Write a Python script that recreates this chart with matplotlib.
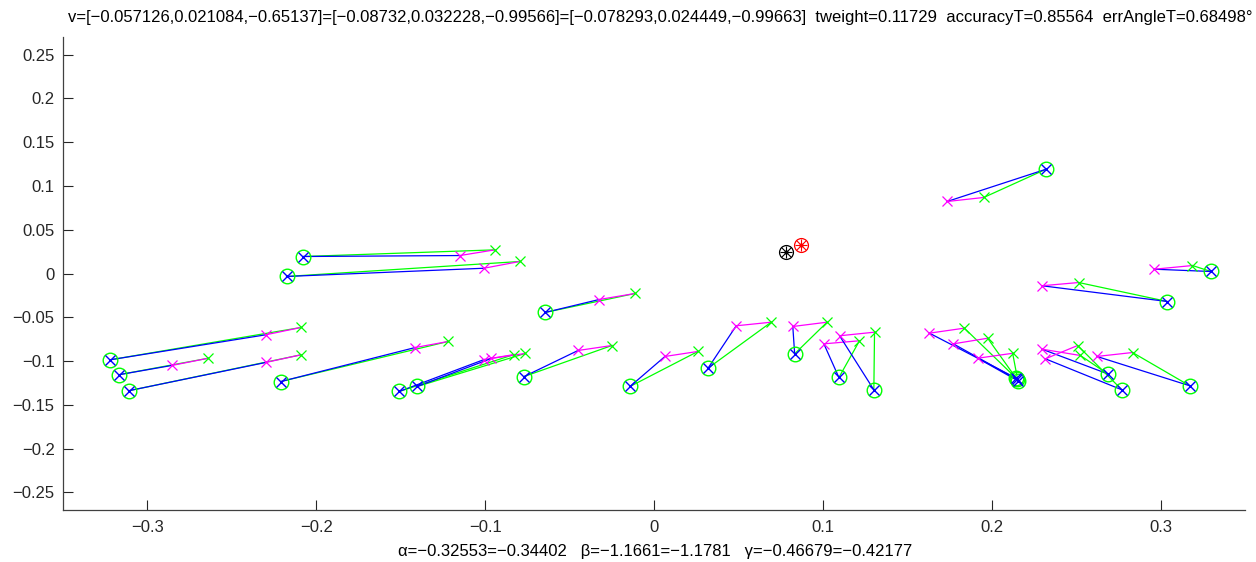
import numpy as np
import matplotlib
matplotlib.use("Agg")
import matplotlib.pyplot as plt

plt.rcParams['font.family'] = ['Liberation Sans', 'DejaVu Sans']

# base points (green circle + blue x)
base_x = [-0.322, -0.317, -0.3112, -0.2209, -0.2077, -0.2176, -0.1509, -0.1402,
          -0.0769, -0.0645, -0.0142, 0.032, 0.0833, 0.1095, 0.1302, 0.2321,
          0.3298, 0.3041, 0.2686, 0.2771, 0.3173, 0.2145, 0.215, 0.2155]
base_y = [-0.0985, -0.1156, -0.1339, -0.1233, 0.0194, -0.0034, -0.1347, -0.129,
          -0.1176, -0.0445, -0.129, -0.1081, -0.0917, -0.1187, -0.1328, 0.119,
          0.0023, -0.032, -0.1145, -0.1328, -0.1282, -0.1195, -0.121, -0.1225]
# magenta estimates
mag_x = [-0.230, -0.2856, -0.230, -0.1414, -0.115, -0.1008, -0.1006, -0.0964,
         -0.045, -0.0325, 0.0065, 0.0487, 0.0822, 0.1006, 0.1099, 0.1736,
         0.2963, 0.2298, 0.2298, 0.2318, 0.2623, 0.1631, 0.1773, 0.1917]
mag_y = [-0.070, -0.105, -0.1016, -0.0845, 0.0205, 0.006, -0.0982, -0.097,
         -0.0879, -0.0297, -0.0947, -0.0597, -0.0605, -0.0803, -0.0711, 0.0822,
         0.0049, -0.014, -0.0864, -0.0974, -0.0947, -0.0681, -0.0803, -0.0967]
# green estimates
grn_x = [-0.209, -0.2639, -0.209, -0.1219, -0.0943, -0.0795, -0.0828, -0.0763,
         -0.0249, -0.0112, 0.026, 0.0694, 0.1025, 0.1217, 0.1306, 0.1953,
         0.3189, 0.2515, 0.2525, 0.2509, 0.2834, 0.1838, 0.1976, 0.2124]
grn_y = [-0.0616, -0.0967, -0.0928, -0.0776, 0.027, 0.0137, -0.0925, -0.0913,
         -0.0822, -0.0228, -0.089, -0.0556, -0.0556, -0.0768, -0.067, 0.0868,
         0.0091, -0.0103, -0.0936, -0.0822, -0.0902, -0.0624, -0.0739, -0.0911]

v_true = (0.078293, 0.024449)
v_est = (0.08732, 0.032228)

title_txt = ("v=[\u22120.057126,0.021084,\u22120.65137]=[\u22120.08732,0.032228,\u22120.99566]"
             "=[\u22120.078293,0.024449,\u22120.99663]  tweight=0.11729  accuracyT=0.85564  "
             "errAngleT=0.68498\u00b0")
xlabel_txt = ("\u03b1=\u22120.32553=\u22120.34402   \u03b2=\u22121.1661=\u22121.1781   "
              "\u03b3=\u22120.46679=\u22120.42177")

GREEN = "#00ff00"
BLUE = "#0000ff"
MAG = "#ff00ff"

fig = plt.figure(figsize=(12.56, 5.62), dpi=100)
ax = fig.add_axes([63/1256, 1-510/562, (1245-63)/1256, (510-37)/562])

for i in range(len(base_x)):
    ax.plot([base_x[i], grn_x[i]], [base_y[i], grn_y[i]], color=GREEN, lw=0.9)
    ax.plot([base_x[i], mag_x[i]], [base_y[i], mag_y[i]], color=BLUE, lw=0.9)
    ax.plot([mag_x[i], grn_x[i]], [mag_y[i], grn_y[i]], color=MAG, lw=0.9)

ax.plot(base_x, base_y, 'o', ls='none', mfc='none', mec=GREEN, ms=10.5, mew=1.0)
ax.plot(base_x, base_y, 'x', ls='none', color=BLUE, ms=7.5, mew=1.0)
ax.plot(mag_x, mag_y, 'x', ls='none', color=MAG, ms=7.5, mew=0.9)
ax.plot(grn_x, grn_y, 'x', ls='none', color=GREEN, ms=7.5, mew=0.9)

for (px, py), c in [(v_true, 'black'), (v_est, '#ff0000')]:
    ax.plot(px, py, 'o', mfc='none', mec=c, ms=10, mew=0.9)
    ax.plot(px, py, '+', color=c, ms=9, mew=0.8)
    ax.plot(px, py, 'x', color=c, ms=6.5, mew=0.8)
    ax.plot(px, py, '.', color=c, ms=4)

ax.set_xlim(-0.35, 0.35)
ax.set_ylim(-0.27, 0.27)
ax.set_xticks(np.arange(-0.3, 0.31, 0.1))
ax.set_yticks(np.arange(-0.25, 0.26, 0.05))
ax.set_xticklabels(['\u22120.3', '\u22120.2', '\u22120.1', '0', '0.1', '0.2', '0.3'])
ax.set_yticklabels(['\u22120.25', '\u22120.2', '\u22120.15', '\u22120.1', '\u22120.05', '0',
                    '0.05', '0.1', '0.15', '0.2', '0.25'])
ax.tick_params(direction='in', length=7, width=0.8, labelsize=12, colors='#262626',
               pad=6)
ax.tick_params(axis='x', pad=7)
for s in ['top', 'right']:
    ax.spines[s].set_visible(False)
for s in ['left', 'bottom']:
    ax.spines[s].set_color('#404040')
    ax.spines[s].set_linewidth(0.9)

fig.text(68/1256, 1-22/562, title_txt, fontsize=12, ha='left', va='baseline')
fig.text(655/1256, 1-556/562, xlabel_txt, fontsize=12, ha='center', va='baseline')

fig.savefig("out.png", dpi=100)
